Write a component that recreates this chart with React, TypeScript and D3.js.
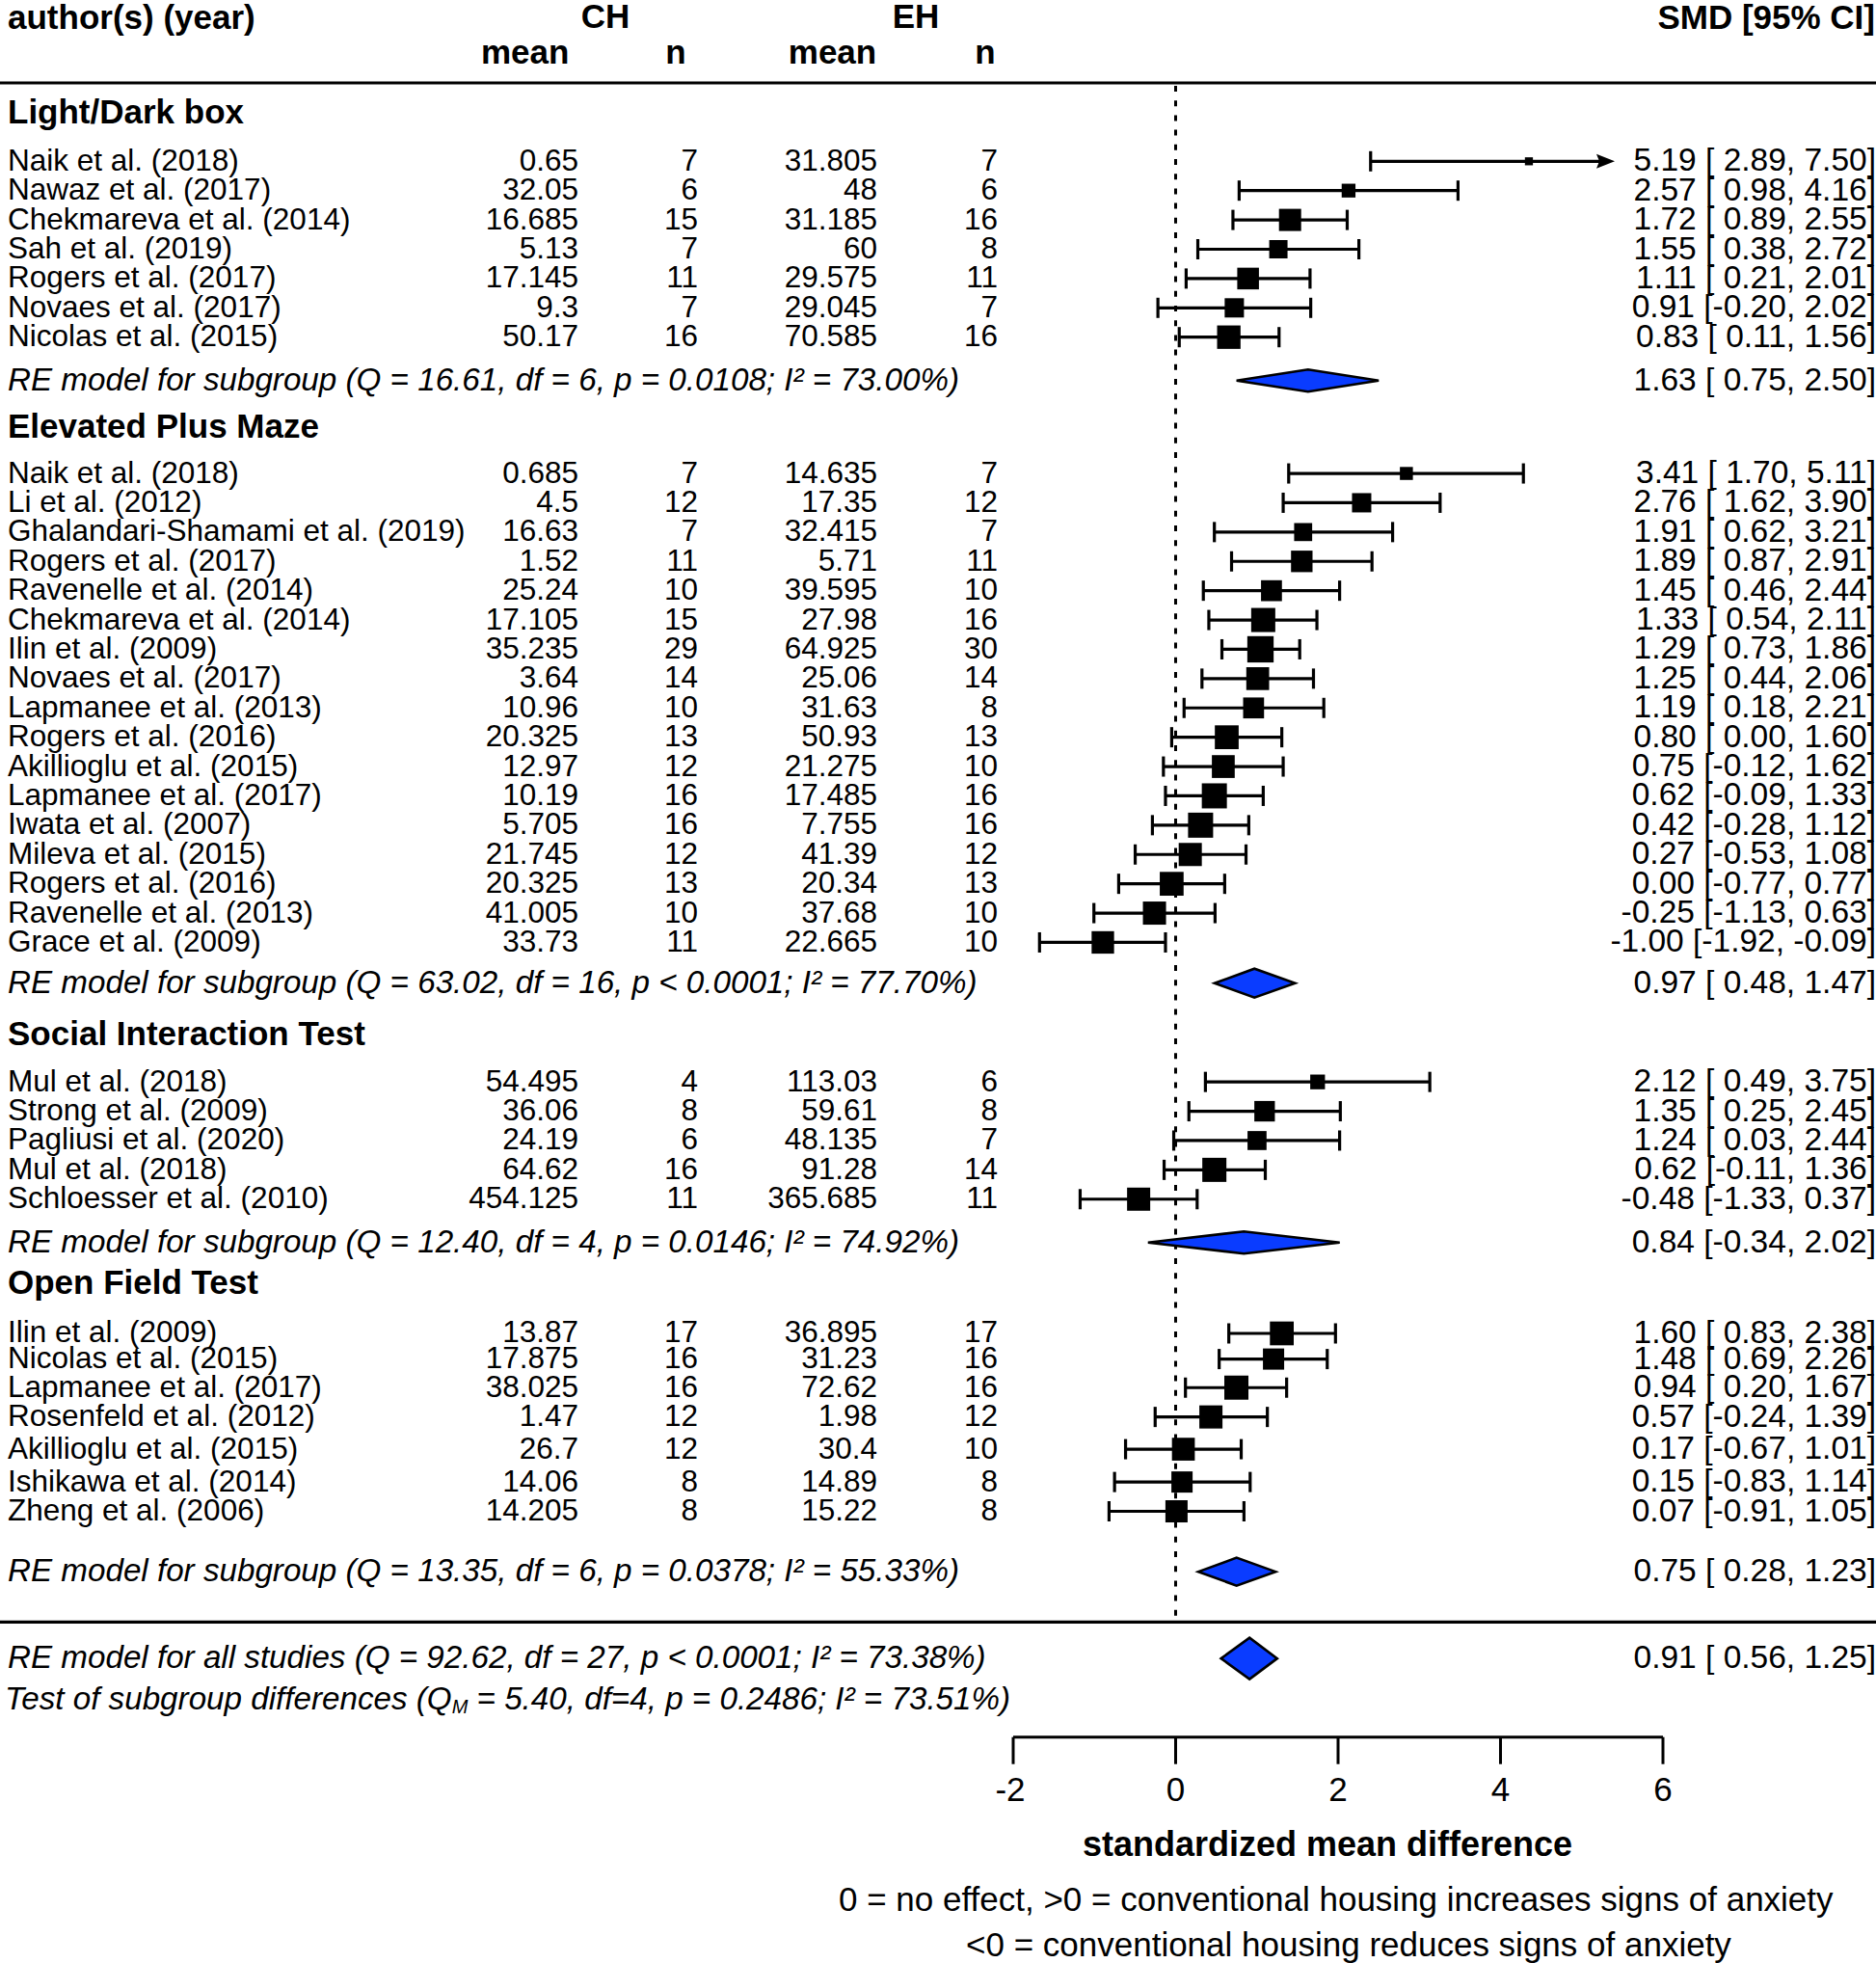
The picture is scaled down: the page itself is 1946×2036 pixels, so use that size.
import React from "react";
import * as d3 from "d3";

// ---------------- DATA ----------------
// [author, CH mean, CH n, EH mean, EH n, SMD, lower, upper, weight]
type Study = [string, number, number, number, number, number, number, number, number];

const groupNames = ["Light/Dark box", "Elevated Plus Maze", "Social Interaction Test", "Open Field Test"];

const ldbStudies: Study[] = [
  ["Naik et al. (2018)", 0.65, 7, 31.805, 7, 5.19, 2.89, 7.5, 0.83],
  ["Nawaz et al. (2017)", 32.05, 6, 48, 6, 2.57, 0.98, 4.16, 1.43],
  ["Chekmareva et al. (2014)", 16.685, 15, 31.185, 16, 1.72, 0.89, 2.55, 2.3],
  ["Sah et al. (2019)", 5.13, 7, 60, 8, 1.55, 0.38, 2.72, 1.9],
  ["Rogers et al. (2017)", 17.145, 11, 29.575, 11, 1.11, 0.21, 2.01, 2.25],
  ["Novaes et al. (2017)", 9.3, 7, 29.045, 7, 0.91, -0.2, 2.02, 2.0],
  ["Nicolas et al. (2015)", 50.17, 16, 70.585, 16, 0.83, 0.11, 1.56, 2.43],
];

const epmStudies: Study[] = [
  ["Naik et al. (2018)", 0.685, 7, 14.635, 7, 3.41, 1.7, 5.11, 1.35],
  ["Li et al. (2012)", 4.5, 12, 17.35, 12, 2.76, 1.62, 3.9, 2.0],
  ["Ghalandari-Shamami et al. (2019)", 16.63, 7, 32.415, 7, 1.91, 0.62, 3.21, 1.87],
  ["Rogers et al. (2017)", 1.52, 11, 5.71, 11, 1.89, 0.87, 2.91, 2.23],
  ["Ravenelle et al. (2014)", 25.24, 10, 39.595, 10, 1.45, 0.46, 2.44, 2.17],
  ["Chekmareva et al. (2014)", 17.105, 15, 27.98, 16, 1.33, 0.54, 2.11, 2.5],
  ["Ilin et al. (2009)", 35.235, 29, 64.925, 30, 1.29, 0.73, 1.86, 2.73],
  ["Novaes et al. (2017)", 3.64, 14, 25.06, 14, 1.25, 0.44, 2.06, 2.37],
  ["Lapmanee et al. (2013)", 10.96, 10, 31.63, 8, 1.19, 0.18, 2.21, 2.17],
  ["Rogers et al. (2016)", 20.325, 13, 50.93, 13, 0.8, 0.0, 1.6, 2.47],
  ["Akillioglu et al. (2015)", 12.97, 12, 21.275, 10, 0.75, -0.12, 1.62, 2.37],
  ["Lapmanee et al. (2017)", 10.19, 16, 17.485, 16, 0.62, -0.09, 1.33, 2.6],
  ["Iwata et al. (2007)", 5.705, 16, 7.755, 16, 0.42, -0.28, 1.12, 2.6],
  ["Mileva et al. (2015)", 21.745, 12, 41.39, 12, 0.27, -0.53, 1.08, 2.4],
  ["Rogers et al. (2016)", 20.325, 13, 20.34, 13, 0.0, -0.77, 0.77, 2.47],
  ["Ravenelle et al. (2013)", 41.005, 10, 37.68, 10, -0.25, -1.13, 0.63, 2.4],
  ["Grace et al. (2009)", 33.73, 11, 22.665, 10, -1.0, -1.92, -0.09, 2.33],
];

const sitStudies: Study[] = [
  ["Mul et al. (2018)", 54.495, 4, 113.03, 6, 2.12, 0.49, 3.75, 1.53],
  ["Strong et al. (2009)", 36.06, 8, 59.61, 8, 1.35, 0.25, 2.45, 2.13],
  ["Pagliusi et al. (2020)", 24.19, 6, 48.135, 7, 1.24, 0.03, 2.44, 1.97],
  ["Mul et al. (2018)", 64.62, 16, 91.28, 14, 0.62, -0.11, 1.36, 2.5],
  ["Schloesser et al. (2010)", 454.125, 11, 365.685, 11, -0.48, -1.33, 0.37, 2.4],
];

const oftStudies: Study[] = [
  ["Ilin et al. (2009)", 13.87, 17, 36.895, 17, 1.6, 0.83, 2.38, 2.47],
  ["Nicolas et al. (2015)", 17.875, 16, 31.23, 16, 1.48, 0.69, 2.26, 2.2],
  ["Lapmanee et al. (2017)", 38.025, 16, 72.62, 16, 0.94, 0.2, 1.67, 2.5],
  ["Rosenfeld et al. (2012)", 1.47, 12, 1.98, 12, 0.57, -0.24, 1.39, 2.4],
  ["Akillioglu et al. (2015)", 26.7, 12, 30.4, 10, 0.17, -0.67, 1.01, 2.37],
  ["Ishikawa et al. (2014)", 14.06, 8, 14.89, 8, 0.15, -0.83, 1.14, 2.2],
  ["Zheng et al. (2006)", 14.205, 8, 15.22, 8, 0.07, -0.91, 1.05, 2.3],
];

// subgroup random-effects summaries: [estimate, lower, upper]
const subgroupSummaries: [number, number, number][] = [
  [1.63, 0.75, 2.5],
  [0.97, 0.48, 1.47],
  [0.84, -0.34, 2.02],
  [0.75, 0.28, 1.23],
];
const subgroupQ = [16.61, 63.02, 12.4, 13.35];
const subgroupDf = [6, 16, 4, 6];
const subgroupP = ["= 0.0108", "< 0.0001", "= 0.0146", "= 0.0378"];
const subgroupI2 = [73.0, 77.7, 74.92, 55.33];

const overallSummary: [number, number, number] = [0.91, 0.56, 1.25];
const overallStats = { Q: 92.62, df: 27, p: "< 0.0001", I2: 73.38 };
const subgroupTest = { QM: 5.4, df: 4, p: "= 0.2486", I2: 73.51 };

const axisTicks = [-2, 0, 2, 4, 6];

const studyGroups = [ldbStudies, epmStudies, sitStudies, oftStudies];

// ---------------- LAYOUT ----------------
const W = 1946;
const H = 2036;
const FONT = "'Liberation Sans', Arial, Helvetica, sans-serif";
const BLUE = "#0a3cff";

const LAYOUT = {
  rowPx: 30.4,
  firstRowPx: 167.3,
  headGap: [1.65, 1.58, 1.62, 1.71],
  sumGap: [1.48, 1.39, 1.48, 2.06],
  nextGap: [1.59, 1.75, 1.39],
  // row offsets within a group (the last group in the picture is unevenly spaced)
  rowOffsets: [null, null, null, [0, 0.875, 1.85, 2.85, 3.95, 5.07, 6.07]] as (number[] | null)[],
  bottomGap: 1.72,
  overallGap: 1.24,
  testGap: 1.38,
  diamondH: [23, 30, 23, 29],
  overallDiamondH: 43,
  colAuthor: 8,
  colChMean: 600,
  colChN: 724,
  colEhMean: 910,
  colEhN: 1035,
  colSmd: 1946,
  rowFont: 31.5,
  smdFont: 33.5,
  sumFont: 33.2,
  boldFont: 35,
  axisY: 1801.7,
  tickLen: 28,
  textDy: -1.5,
};

// Horizontal scales: axis (diamonds + ticks) and the compressed scale the study markers were drawn on
const axisX = d3.scaleLinear().domain([-2, 6]).range([1051, 1725]);
const studyX = d3.scaleLinear().domain([-2, 6]).range([1072.6, 1643.8]);
const clipHi = studyX.invert(1675);
const sizeScale = d3.scaleLinear().domain([0, 1]).range([0, 10]);
const yScale = d3
  .scaleLinear()
  .domain([0, 1])
  .range([LAYOUT.firstRowPx, LAYOUT.firstRowPx + LAYOUT.rowPx]);

const f2 = (v: number) => v.toFixed(2);
const ciText = (e: number, lo: number, hi: number) =>
  `${f2(e)} [${lo < 0 ? "" : " "}${f2(lo)}, ${f2(hi)}]`;

// compute row coordinates
const headerRows: number[] = [];
const studyRows: number[][] = [];
const summaryRows: number[] = [];
let r = -LAYOUT.headGap[0];
studyGroups.forEach((g, gi) => {
  headerRows.push(r);
  r += LAYOUT.headGap[gi];
  const offs = LAYOUT.rowOffsets[gi];
  const rows: number[] = g.map((_, si) => r + (offs ? offs[si] : si));
  studyRows.push(rows);
  r = rows[rows.length - 1] + LAYOUT.sumGap[gi];
  summaryRows.push(r);
  if (gi < studyGroups.length - 1) r += LAYOUT.nextGap[gi];
});
const bottomLineRow = r + LAYOUT.bottomGap;
const overallRow = bottomLineRow + LAYOUT.overallGap;
const testRow = overallRow + LAYOUT.testGap;

function Diamond({ est, lo, hi, y, h }: { est: number; lo: number; hi: number; y: number; h: number }) {
  const pts = [
    [axisX(lo), y],
    [axisX(est), y - h / 2],
    [axisX(hi), y],
    [axisX(est), y + h / 2],
  ];
  return (
    <polygon
      points={pts.map((p) => p.join(",")).join(" ")}
      fill={BLUE}
      stroke="#000"
      strokeWidth={2.6}
      strokeLinejoin="miter"
    />
  );
}

function StudyMark({ s, y }: { s: Study; y: number }) {
  const [, , , , , est, lo, hi, w] = s;
  const x0 = studyX(lo);
  const clipped = hi > clipHi;
  const x1 = clipped ? studyX(clipHi) : studyX(hi);
  const side = sizeScale(w);
  const cap = 10.5;
  return (
    <g>
      <line x1={x0} x2={clipped ? x1 - 12 : x1} y1={y} y2={y} stroke="#000" strokeWidth={3.2} />
      <line x1={x0} x2={x0} y1={y - cap} y2={y + cap} stroke="#000" strokeWidth={3.2} />
      {clipped ? (
        <polygon
          points={`${x1},${y} ${x1 - 19},${y - 7.5} ${x1 - 16},${y} ${x1 - 19},${y + 7.5}`}
          fill="#000"
        />
      ) : (
        <line x1={x1} x2={x1} y1={y - cap} y2={y + cap} stroke="#000" strokeWidth={3.2} />
      )}
      <rect x={studyX(est) - side / 2} y={y - side / 2} width={side} height={side} fill="#000" />
    </g>
  );
}

export default function App() {
  const rowText = {
    fontFamily: FONT,
    fontSize: LAYOUT.rowFont,
    fill: "#000",
  } as const;
  const smdText = {
    fontFamily: FONT,
    fontSize: LAYOUT.smdFont,
    fill: "#000",
  } as const;
  const zeroX = axisX(0);
  const dy = LAYOUT.textDy;

  return (
    <svg
      width={W}
      height={H}
      viewBox={`0 0 ${W} ${H}`}
      style={{ position: "absolute", left: 0, top: 0, background: "#fff" }}
    >
      <rect x={0} y={0} width={W} height={H} fill="#fff" />

      {/* column headers */}
      <g fontFamily={FONT} fontWeight="bold" fontSize={LAYOUT.boldFont} fill="#000">
        <text x={LAYOUT.colAuthor} y={30}>author(s) (year)</text>
        <text x={628} y={29} textAnchor="middle">CH</text>
        <text x={950} y={29} textAnchor="middle">EH</text>
        <text x={544.6} y={66} textAnchor="middle">mean</text>
        <text x={701} y={66} textAnchor="middle">n</text>
        <text x={863.5} y={66} textAnchor="middle">mean</text>
        <text x={1022} y={66} textAnchor="middle">n</text>
        <text x={1945} y={30} textAnchor="end">SMD [95% CI]</text>
      </g>

      {/* horizontal rules */}
      <line x1={0} x2={W} y1={86} y2={86} stroke="#000" strokeWidth={3.2} />
      <line x1={0} x2={W} y1={yScale(bottomLineRow)} y2={yScale(bottomLineRow)} stroke="#000" strokeWidth={3.2} />

      {/* zero reference line */}
      <line
        x1={zeroX}
        x2={zeroX}
        y1={89}
        y2={yScale(bottomLineRow) - 2}
        stroke="#000"
        strokeWidth={3}
        strokeDasharray="6 9.2"
      />

      {studyGroups.map((g, gi) => (
        <g key={gi}>
          <text
            x={LAYOUT.colAuthor}
            y={yScale(headerRows[gi]) + dy}
            dominantBaseline="central"
            fontFamily={FONT}
            fontWeight="bold"
            fontSize={LAYOUT.boldFont}
          >
            {groupNames[gi]}
          </text>
          {g.map((s, si) => {
            const y = yScale(studyRows[gi][si]);
            return (
              <g key={si}>
                <g {...rowText} dominantBaseline="central">
                  <text x={LAYOUT.colAuthor} y={y + dy}>{s[0]}</text>
                  <text x={LAYOUT.colChMean} y={y + dy} textAnchor="end">{String(s[1])}</text>
                  <text x={LAYOUT.colChN} y={y + dy} textAnchor="end">{String(s[2])}</text>
                  <text x={LAYOUT.colEhMean} y={y + dy} textAnchor="end">{String(s[3])}</text>
                  <text x={LAYOUT.colEhN} y={y + dy} textAnchor="end">{String(s[4])}</text>
                </g>
                <text x={LAYOUT.colSmd} y={y + dy} dominantBaseline="central" {...smdText} textAnchor="end">
                  {ciText(s[5], s[6], s[7])}
                </text>
                <StudyMark s={s} y={y} />
              </g>
            );
          })}
          {(() => {
            const y = yScale(summaryRows[gi]);
            const [e, lo, hi] = subgroupSummaries[gi];
            return (
              <g>
                <text
                  x={LAYOUT.colAuthor}
                  y={y + dy}
                  dominantBaseline="central"
                  fontFamily={FONT}
                  fontStyle="italic"
                  fontSize={LAYOUT.sumFont}
                >
                  {`RE model for subgroup (Q = ${f2(subgroupQ[gi])}, df = ${subgroupDf[gi]}, p ${subgroupP[gi]}; I² = ${f2(subgroupI2[gi])}%)`}
                </text>
                <text x={LAYOUT.colSmd} y={y + dy} dominantBaseline="central" {...smdText} textAnchor="end">
                  {ciText(e, lo, hi)}
                </text>
                <Diamond est={e} lo={lo} hi={hi} y={y} h={LAYOUT.diamondH[gi]} />
              </g>
            );
          })()}
        </g>
      ))}

      {/* overall */}
      <text
        x={LAYOUT.colAuthor}
        y={yScale(overallRow) + dy}
        dominantBaseline="central"
        fontFamily={FONT}
        fontStyle="italic"
        fontSize={LAYOUT.sumFont}
      >
        {`RE model for all studies (Q = ${f2(overallStats.Q)}, df = ${overallStats.df}, p ${overallStats.p}; I² = ${f2(overallStats.I2)}%)`}
      </text>
      <text x={LAYOUT.colSmd} y={yScale(overallRow) + dy} dominantBaseline="central" {...smdText} textAnchor="end">
        {ciText(...overallSummary)}
      </text>
      <Diamond
        est={overallSummary[0]}
        lo={overallSummary[1]}
        hi={overallSummary[2]}
        y={yScale(overallRow)}
        h={LAYOUT.overallDiamondH}
      />

      <text
        x={5}
        y={yScale(testRow) + dy}
        dominantBaseline="central"
        fontFamily={FONT}
        fontStyle="italic"
        fontSize={LAYOUT.sumFont}
      >
        <tspan>Test of subgroup differences (Q</tspan>
        <tspan dy={9} fontSize={20}>M</tspan>
        <tspan dy={-9}>{` = ${f2(subgroupTest.QM)}, df=${subgroupTest.df}, p ${subgroupTest.p}; I² = ${f2(subgroupTest.I2)}%)`}</tspan>
      </text>

      {/* x axis */}
      <g stroke="#000" strokeWidth={3}>
        <line x1={axisX(-2)} x2={axisX(6)} y1={LAYOUT.axisY} y2={LAYOUT.axisY} />
        {axisTicks.map((t) => (
          <line key={t} x1={axisX(t)} x2={axisX(t)} y1={LAYOUT.axisY} y2={LAYOUT.axisY + LAYOUT.tickLen} />
        ))}
      </g>
      <g fontFamily={FONT} fontSize={35} textAnchor="middle">
        {axisTicks.map((t) => (
          <text key={t} x={axisX(t) - (t < 0 ? 3 : 0)} y={1868}>{String(t)}</text>
        ))}
      </g>
      <text x={1377} y={1925} textAnchor="middle" fontFamily={FONT} fontWeight="bold" fontSize={36}>
        standardized mean difference
      </text>
      <text x={870} y={1982} fontFamily={FONT} fontSize={35}>
        0 = no effect, &gt;0 = conventional housing increases signs of anxiety
      </text>
      <text x={1002} y={2029} fontFamily={FONT} fontSize={35}>
        &lt;0 = conventional housing reduces signs of anxiety
      </text>
    </svg>
  );
}
